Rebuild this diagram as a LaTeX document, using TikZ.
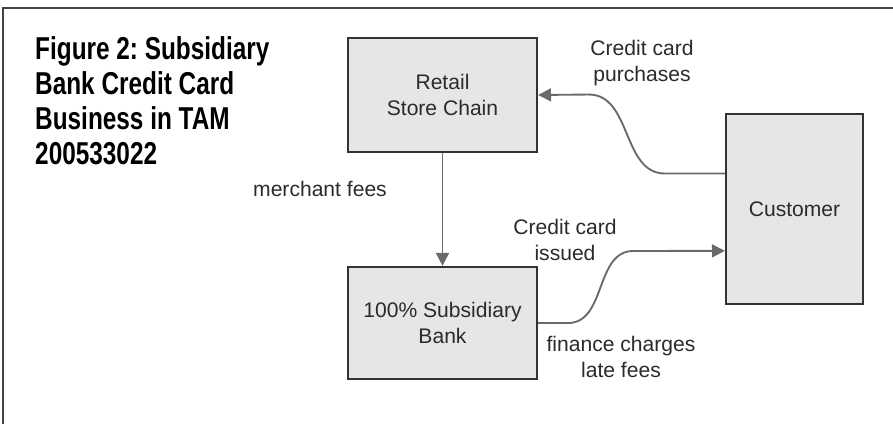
\documentclass[tikz,border=0pt]{standalone}
\usepackage{fontspec}
\setmainfont{Liberation Sans}
\newfontfamily\titlefont[FakeStretch=0.77]{Liberation Sans}
\usetikzlibrary{arrows.meta}
\frenchspacing

\definecolor{boxfill}{HTML}{E6E6E6}
\definecolor{boxline}{HTML}{333333}
\definecolor{labeltext}{HTML}{2B2B2B}
\definecolor{flowgray}{HTML}{6A6A6A}
\definecolor{framegray}{HTML}{444444}

\tikzset{
  box/.style={draw=boxline,fill=boxfill,line width=1.9pt,text=labeltext,align=center,font=\fontsize{18}{22}\selectfont},
  lbl/.style={text=labeltext,align=center,font=\fontsize{18}{22}\selectfont},
  flow/.style={draw=flowgray,line width=1.6pt,-{Triangle[length=11pt,width=11pt]}},
}

\begin{document}
\begin{tikzpicture}[x=0.03cm,y=-0.03cm]
\useasboundingbox (0,0) rectangle (893,424);
\draw[framegray,line width=1.5pt] (3,424) -- (3,8) -- (893,8);
\node[anchor=north west,inner sep=0pt,align=left,font=\titlefont\bfseries\fontsize{27}{30}\selectfont] (title) at (35,36) {Figure 2: Subsidiary\\Bank Credit Card\\Business in TAM\\200533022};
\node[box,minimum width=5.67cm,minimum height=3.42cm] (retail) at (442.5,95) {Retail\\Store Chain};
\node[box,minimum width=5.67cm,minimum height=3.36cm] (bank) at (442.5,323) {100\% Subsidiary\\Bank};
\node[box,minimum width=4.11cm,minimum height=5.7cm] (cust) at (794.5,209) {Customer};
\node[lbl] (purch) at (642,63) {Credit card\\purchases};
\node[lbl] (merch) at (320,189) {merchant fees};
\node[lbl] (issued) at (565,240) {Credit card\\issued};
\node[lbl] (fees) at (621,357) {finance charges\\late fees};
\draw[flow] (retail) -- (bank);
\draw[flow] (cust.153) -- ++(-60,0) to[out=180,in=0] ++(-76,-79) -- (retail.east);
\draw[flow] (bank.east) -- ++(30,0) to[out=0,in=180] ++(65,-72) -- (cust.211);
\end{tikzpicture}
\end{document}
